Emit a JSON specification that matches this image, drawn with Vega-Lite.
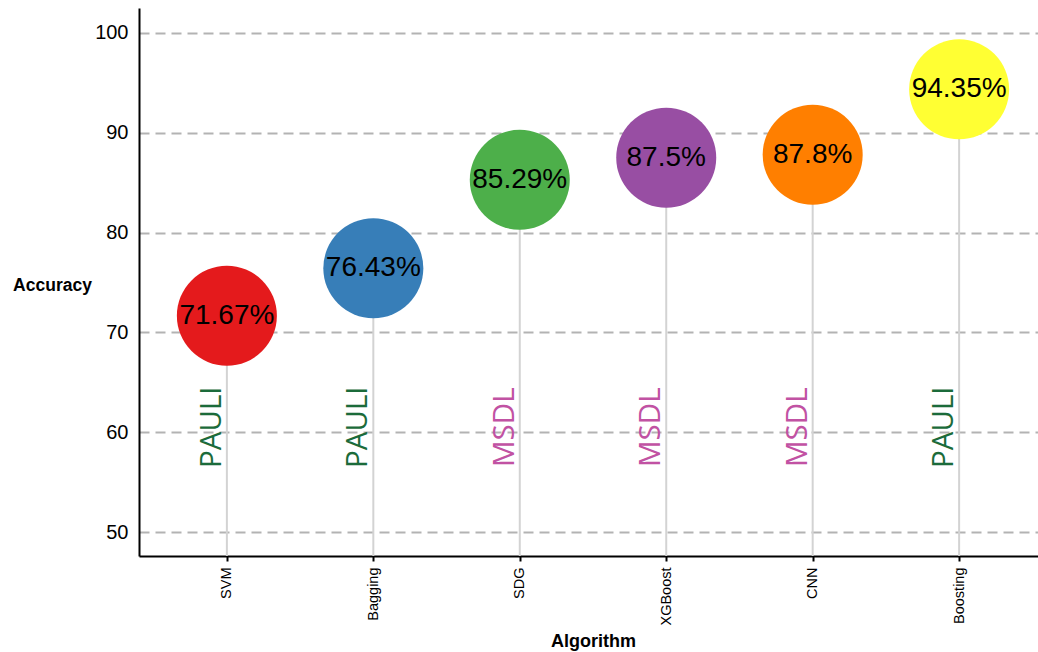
{
  "$schema": "https://vega.github.io/schema/vega-lite/v6.json",
  "width": 908,
  "height": 548,
  "autosize": {"type": "none"},
  "padding": {"left": 139, "top": 8, "right": 0, "bottom": 96},
  "background": "white",
  "config": {"view": {"stroke": null}},
  "data": {
    "values": [
      {"algorithm": "SVM", "accuracy": 71.67, "dataset": "PAULI"},
      {"algorithm": "Bagging", "accuracy": 76.43, "dataset": "PAULI"},
      {"algorithm": "SDG", "accuracy": 85.29, "dataset": "MSDL"},
      {"algorithm": "XGBoost", "accuracy": 87.5, "dataset": "MSDL"},
      {"algorithm": "CNN", "accuracy": 87.8, "dataset": "MSDL"},
      {"algorithm": "Boosting", "accuracy": 94.35, "dataset": "PAULI"}
    ]
  },
  "transform": [
    {"calculate": "format(datum.accuracy, '.2~f') + '%'", "as": "pct"}
  ],
  "encoding": {
    "x": {
      "field": "algorithm",
      "type": "nominal",
      "sort": null,
      "scale": {"type": "point", "padding": 0.6},
      "axis": {
        "title": "Algorithm",
        "grid": false,
        "labelAngle": 270,
        "labelFont": "Liberation Sans",
        "labelFontSize": 14.5,
        "labelColor": "black",
        "labelPadding": 6,
        "tickSize": 5,
        "tickWidth": 2,
        "tickColor": "black",
        "domainColor": "black",
        "domainWidth": 2,
        "titleFont": "Liberation Sans",
        "titleFontSize": 18,
        "titleFontWeight": "bold",
        "titleColor": "black",
        "titleBaseline": "alphabetic",
        "titleY": 90
      }
    }
  },
  "layer": [
    {
      "mark": {"type": "rule", "color": "#d3d3d3", "strokeWidth": 2},
      "encoding": {
        "y": {
          "field": "accuracy",
          "type": "quantitative",
          "scale": {"domain": [47.6, 102.5], "nice": false, "zero": false},
          "axis": {
            "title": "Accuracy",
            "values": [50, 60, 70, 80, 90, 100],
            "ticks": false,
            "tickSize": 0,
            "labelPadding": 11,
            "labelFont": "Liberation Sans",
            "labelFontSize": 20,
            "labelColor": "black",
            "domainColor": "black",
            "domainWidth": 2,
            "grid": true,
            "gridColor": "#b3b3b3",
            "gridWidth": 2,
            "gridDash": [10, 6],
            "titleAngle": 0,
            "titleAlign": "center",
            "titleBaseline": "alphabetic",
            "titleX": -87,
            "titleY": 282,
            "titleFont": "Liberation Sans",
            "titleFontSize": 17.5,
            "titleFontWeight": "bold",
            "titleColor": "black"
          }
        },
        "y2": {"datum": 47.6}
      }
    },
    {
      "mark": {"type": "circle", "size": 10000, "opacity": 1},
      "encoding": {
        "y": {"field": "accuracy", "type": "quantitative"},
        "color": {
          "field": "algorithm",
          "type": "nominal",
          "scale": {
            "domain": ["SVM", "Bagging", "SDG", "XGBoost", "CNN", "Boosting"],
            "range": ["#E41A1C", "#377EB8", "#4DAF4A", "#984EA3", "#FF7F00", "#FFFF33"]
          },
          "legend": null
        }
      }
    },
    {
      "mark": {"type": "text", "font": "Liberation Sans", "fontSize": 28, "color": "black", "baseline": "middle", "align": "center"},
      "encoding": {
        "y": {"field": "accuracy", "type": "quantitative"},
        "text": {"field": "pct"}
      }
    },
    {
      "mark": {"type": "text", "angle": 270, "font": "Open Sans", "fontSize": 29.5, "baseline": "alphabetic", "align": "center", "dy": -6},
      "encoding": {
        "y": {"datum": 60.5},
        "text": {"field": "dataset"},
        "color": {
          "field": "dataset",
          "type": "nominal",
          "scale": {"domain": ["PAULI", "MSDL"], "range": ["#1B6B3A", "#C152A3"]},
          "legend": null
        }
      }
    }
  ],
  "resolve": {"scale": {"color": "independent"}}
}
